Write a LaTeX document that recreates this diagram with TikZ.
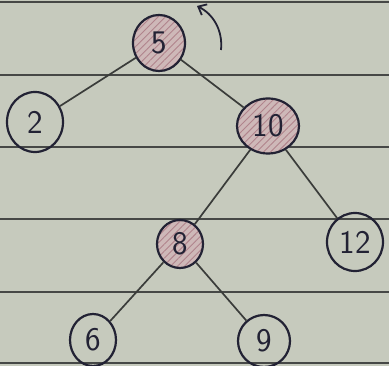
\documentclass[tikz,border=0pt]{standalone}
\usepackage{fontspec}
\usetikzlibrary{shapes.geometric,patterns.meta,arrows.meta}
\definecolor{paper}{RGB}{198,202,189}
\definecolor{ruling}{RGB}{70,72,70}
\definecolor{ink}{RGB}{34,34,52}
\definecolor{pencil}{RGB}{58,60,58}
\definecolor{blush}{RGB}{206,184,184}
\definecolor{hatch}{RGB}{176,132,140}
\begin{document}
\begin{tikzpicture}[x=1pt,y=-1pt,
  keynode/.style={ellipse,draw=ink,line width=2.2pt,inner sep=0pt,
    font=\sffamily\fontsize{33}{33}\selectfont,text=ink},
  marked/.style={keynode,
    preaction={fill=blush},
    pattern={Lines[angle=45,distance=5pt,line width=0.9pt]},pattern color=hatch},
  edge/.style={draw=pencil,line width=1.7pt},
  rule/.style={draw=ruling,line width=1.3pt}]
  % paper and its ruled lines
  \fill[paper] (0,0) rectangle (389,366);
  \useasboundingbox (0,0) rectangle (389,366);
  \foreach \yy in {2,75,147,219,292,363}
    \draw[rule] (0,\yy) -- (389,\yy);
  % tree nodes
  \node[marked,minimum width=52pt,minimum height=56pt] (n5)  at (159,43)  {5};
  \node[keynode,minimum width=56pt,minimum height=60pt] (n2)  at (35,122)  {2};
  \node[marked,minimum width=62pt,minimum height=55pt] (n10) at (268,126) {10};
  \node[marked,minimum width=46pt,minimum height=48pt] (n8)  at (180,244) {8};
  \node[keynode,minimum width=56pt,minimum height=58pt] (n12) at (355,242) {12};
  \node[keynode,minimum width=46pt,minimum height=52pt] (n6)  at (93,340)  {6};
  \node[keynode,minimum width=52pt,minimum height=52pt] (n9)  at (264,341) {9};
  % edges
  \draw[edge] (n5) -- (n2);
  \draw[edge] (n5) -- (n10);
  \draw[edge] (n10) -- (n8);
  \draw[edge] (n10) -- (n12);
  \draw[edge] (n8) -- (n6);
  \draw[edge] (n8) -- (n9);
  % rotation arrow
  \coordinate (rotTail) at (221,50);
  \coordinate (rotHead) at (197,6);
  \draw[draw=ink,line width=1.8pt,-{Straight Barb[length=7pt,width=12pt]}]
    (rotTail) .. controls (223,30) and (213,14) .. (rotHead);
\end{tikzpicture}
\end{document}
